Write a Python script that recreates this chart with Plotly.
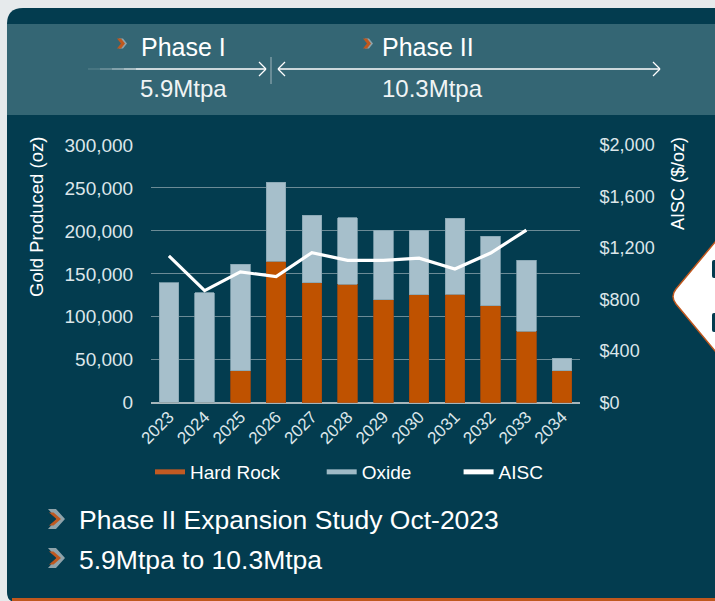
import plotly.graph_objects as go

# ---------------- data ----------------
years = ["2023", "2024", "2025", "2026", "2027", "2028", "2029", "2030", "2031", "2032", "2033", "2034"]
hard_rock = [0, 0, 37000, 164500, 139500, 138000, 120000, 125500, 126500, 113000, 83000, 37000]
total_gold = [139700, 128000, 161000, 256500, 218000, 215500, 201000, 201000, 214500, 193500, 166000, 51500]
oxide = [t - h for t, h in zip(total_gold, hard_rock)]
aisc_years = ["2023", "2024", "2025", "2026", "2027", "2028", "2029", "2030", "2031", "2032", "2033"]
aisc = [1140, 870, 1015, 978, 1165, 1105, 1105, 1122, 1038, 1162, 1340]
left_ticks = [0, 50000, 100000, 150000, 200000, 250000, 300000]
right_ticks = [0, 400, 800, 1200, 1600, 2000]
right_tick_text = [f"${v:,}" for v in right_ticks]

# ---------------- style ----------------
W, H = 715, 601
FONT = "Liberation Sans, Arial, sans-serif"
DARK = "#033c4f"
HEADER = "#346674"
PAGE = "#e6eaec"
ORANGE = "#bf5200"
OXIDE = "#a6bfcb"
ACCENT = "#c0581e"
TXT = "#dce6ea"
NB = "\u00a0"


def px(x):
    return x / W


def py(y):
    return 1 - y / H


def path(points_cmds):
    out = []
    for cmd in points_cmds:
        if isinstance(cmd, str):
            out.append(cmd)
        else:
            out.append(f"{px(cmd[0]):.5f},{py(cmd[1]):.5f}")
    return " ".join(out)


shapes = []


def add_path(cmds, fill=None, line_color=None, line_width=0, layer="below"):
    shapes.append(dict(type="path", xref="paper", yref="paper", path=path(cmds),
                       fillcolor=fill if fill else "rgba(0,0,0,0)",
                       line=dict(color=line_color if line_color else "rgba(0,0,0,0)", width=line_width),
                       layer=layer))


def add_line(x0, y0, x1, y1, color="white", width=1.3, opacity=1.0, layer="above"):
    shapes.append(dict(type="line", xref="paper", yref="paper", x0=px(x0), y0=py(y0), x1=px(x1), y1=py(y1),
                       line=dict(color=color, width=width), opacity=opacity, layer=layer))


def chevron(x, y, w, h, t, color, layer="above"):
    ym = y + h / 2
    add_path(["M", (x, y), "L", (x + t, y), "L", (x + w, ym), "L", (x + t, y + h), "L", (x, y + h),
              "L", (x + w - t, ym), "Z"], fill=color, layer=layer)


# panel background (rounded top-left and bottom-left)
add_path(["M", (7, 24), "Q", (7, 8), (23, 8), "L", (716, 8), "L", (716, 602), "L", (16, 602),
          "Q", (7, 602), (7, 592), "Z"], fill=DARK)
# header band
add_path(["M", (7, 24), "L", (716, 24), "L", (716, 115), "L", (7, 115), "Z"], fill=HEADER)
# bottom orange rule
add_path(["M", (12, 598), "L", (716, 598), "L", (716, 602), "L", (12, 602), "Z"], fill=ACCENT)

# right-side white diamond tab
add_path(["M", (716, 241), "L", (676, 289), "Q", (670, 296.5), (676, 304), "L", (716, 352), "Z"],
         fill="white", line_color=ACCENT, line_width=1.5, layer="above")
add_path(["M", (716, 260), "L", (714, 260), "Q", (712, 260), (712, 262), "L", (712, 276), "Q", (712, 278), (714, 278),
          "L", (716, 278), "Z"], fill=DARK, layer="above")
add_path(["M", (716, 313), "L", (714, 313), "Q", (712, 313), (712, 315), "L", (712, 330), "Q", (712, 332), (714, 332),
          "L", (716, 332), "Z"], fill=DARK, layer="above")

# header arrows
for x0, x1, op in [(88, 100, 0.15), (100, 112, 0.35), (112, 124, 0.6), (124, 136, 0.85)]:
    add_line(x0, 69, x1, 69, opacity=op)
add_line(136, 69, 266, 69)
add_line(259, 62, 266, 69)
add_line(266, 69, 259, 76)
add_line(271, 57, 271, 84, color="#9fb4bb", width=1)
add_line(278, 69, 660, 69)
add_line(285, 62, 278, 69)
add_line(278, 69, 285, 76)
add_line(653, 62, 660, 69)
add_line(660, 69, 653, 76)

# header chevrons
chevron(119, 38.5, 8, 10, 4, "#8fa3aa")
chevron(117, 38.5, 8, 10, 4, ACCENT)
chevron(365, 38.5, 8, 10, 4, "#8fa3aa")
chevron(363, 38.5, 8, 10, 4, ACCENT)

# bullet chevrons
for yc in (519, 558):
    chevron(48, yc - 10, 17, 20, 8, "#8fa3aa")
    chevron(49, yc - 6.5, 12, 13, 4.5, ACCENT)

# ---------------- traces ----------------
fig = go.Figure()
fig.add_trace(go.Bar(x=years, y=hard_rock, name="Hard Rock", marker=dict(color=ORANGE, line=dict(color="#a9490a", width=0.8)),
                     showlegend=False, yaxis="y"))
fig.add_trace(go.Bar(x=years, y=oxide, name="Oxide", marker=dict(color=OXIDE, line=dict(color="#87a5b2", width=0.8)),
                     showlegend=False, yaxis="y"))
fig.add_trace(go.Scatter(x=aisc_years, y=aisc, name="AISC", mode="lines", line=dict(color="white", width=3.2),
                         showlegend=False, yaxis="y2"))
# legend entries
fig.add_trace(go.Scatter(x=[None], y=[None], name="Hard Rock" + NB * 7, mode="lines", line=dict(color="#c25a22", width=5)))
fig.add_trace(go.Scatter(x=[None], y=[None], name="Oxide" + NB * 8, mode="lines", line=dict(color="#9fbac6", width=5)))
fig.add_trace(go.Scatter(x=[None], y=[None], name="AISC", mode="lines", line=dict(color="white", width=5)))

annotations = []


def note(text, x, y, size, color="white", xanchor="left", angle=0, yanchor="middle"):
    annotations.append(dict(text=text, x=px(x), y=py(y), xref="paper", yref="paper", showarrow=False,
                            xanchor=xanchor, yanchor=yanchor, textangle=angle,
                            font=dict(family=FONT, size=size, color=color)))


note("Phase I", 139, 47, 25)
note("Phase II", 380, 47, 25)
note("5.9Mtpa", 138, 89, 24, color="#f0f4f5")
note("10.3Mtpa", 380, 89, 24, color="#f0f4f5")
note("Gold Produced (oz)", 36, 217, 18.5, xanchor="center", angle=-90)
note("AISC ($/oz)", 678, 184, 18, xanchor="center", angle=-90)
note("Phase II Expansion Study Oct-2023", 77, 520, 26.5)
note("5.9Mtpa to 10.3Mtpa", 77, 560, 26.5)

fig.update_layout(
    width=W, height=H, autosize=False,
    margin=dict(l=0, r=0, t=0, b=0, pad=0, autoexpand=False),
    paper_bgcolor=PAGE, plot_bgcolor="rgba(0,0,0,0)",
    barmode="stack", bargap=0.46,
    font=dict(family=FONT, color=TXT),
    shapes=shapes, annotations=annotations,
    xaxis=dict(domain=[px(151), px(580)], type="category", tickangle=-45, showgrid=False, showline=False,
               zeroline=False, tickfont=dict(size=17, color=TXT), automargin=False),
    yaxis=dict(domain=[py(402.7), py(145)], range=[0, 300000], tickvals=left_ticks, tickformat=",",
               showgrid=True, gridcolor="#6b8b96", gridwidth=1, zeroline=True, zerolinecolor="#a6b6bb",
               zerolinewidth=2, showline=False, ticks="outside", ticklen=13, tickcolor="rgba(0,0,0,0)",
               tickfont=dict(size=19, color=TXT), automargin=False),
    yaxis2=dict(overlaying="y", side="right", range=[0, 2000], tickvals=right_ticks, ticktext=right_tick_text,
                showgrid=False, zeroline=False, showline=False, ticks="outside", ticklen=15,
                tickcolor="rgba(0,0,0,0)", tickfont=dict(size=18, color=TXT), automargin=False),
    legend=dict(orientation="h", x=px(150), xanchor="left", y=py(472), yanchor="middle", traceorder="normal",
                bgcolor="rgba(0,0,0,0)", font=dict(family=FONT, size=19, color="white")),
    showlegend=True,
)

fig.write_html("out.html", config={"displayModeBar": False},
               post_script="document.body.style.margin='0px';document.body.style.background='%s';" % PAGE)
